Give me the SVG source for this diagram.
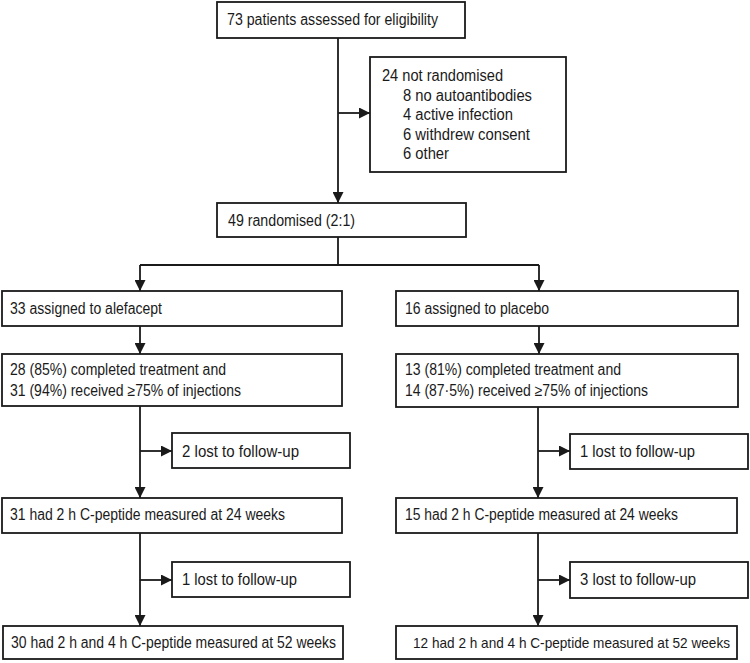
<svg xmlns="http://www.w3.org/2000/svg" width="750" height="663" viewBox="0 0 750 663">
<style>
.box{fill:#fff;stroke:#1a1a1a;stroke-width:1.8}
.ln{fill:none;stroke:#1a1a1a;stroke-width:1.8}
text{font-family:"Liberation Sans",Arial,sans-serif;font-size:16px;fill:#1a1a1a}
</style>
<defs>
<marker id="ah" viewBox="0 0 11 11" markerWidth="11" markerHeight="11" refX="11" refY="5.5" orient="auto" markerUnits="userSpaceOnUse">
<path d="M0,0 L11,5.5 L0,11 z" fill="#1a1a1a"/>
</marker>
</defs>
<rect width="750" height="663" fill="#fff"/>
<g id="connectors">
<path class="ln" d="M338,38 V203" marker-end="url(#ah)"/>
<path class="ln" d="M338,113 H370" marker-end="url(#ah)"/>
<path class="ln" d="M338,237 V265 M140,265 H539"/>
<path class="ln" d="M140,265 V291" marker-end="url(#ah)"/>
<path class="ln" d="M539,265 V291" marker-end="url(#ah)"/>
<path class="ln" d="M140,326 V354" marker-end="url(#ah)"/>
<path class="ln" d="M539,326 V354" marker-end="url(#ah)"/>
<path class="ln" d="M140,406 V498" marker-end="url(#ah)"/>
<path class="ln" d="M140,451 H172" marker-end="url(#ah)"/>
<path class="ln" d="M538,407 V498" marker-end="url(#ah)"/>
<path class="ln" d="M538,451 H570" marker-end="url(#ah)"/>
<path class="ln" d="M140,533 V626" marker-end="url(#ah)"/>
<path class="ln" d="M140,580 H172" marker-end="url(#ah)"/>
<path class="ln" d="M538,533 V626" marker-end="url(#ah)"/>
<path class="ln" d="M538,580 H570" marker-end="url(#ah)"/>
</g>
<g id="n-assessed"><rect class="box" x="217" y="2" width="248" height="36"/><text x="227" y="25" textLength="211" lengthAdjust="spacingAndGlyphs">73 patients assessed for eligibility</text></g>
<g id="n-notrand"><rect class="box" x="370" y="57" width="196" height="115"/>
<text x="382" y="81" textLength="121" lengthAdjust="spacingAndGlyphs">24 not randomised</text>
<text x="403" y="100.5" textLength="129" lengthAdjust="spacingAndGlyphs">8 no autoantibodies</text>
<text x="403" y="120" textLength="110" lengthAdjust="spacingAndGlyphs">4 active infection</text>
<text x="403" y="139.5" textLength="127" lengthAdjust="spacingAndGlyphs">6 withdrew consent</text>
<text x="403" y="159" textLength="46" lengthAdjust="spacingAndGlyphs">6 other</text></g>
<g id="n-rand"><rect class="box" x="217" y="203" width="249" height="34"/><text x="228" y="226" textLength="127" lengthAdjust="spacingAndGlyphs">49 randomised (2:1)</text></g>
<g id="n-alef"><rect class="box" x="2" y="291" width="340" height="35"/><text x="10" y="314" textLength="152" lengthAdjust="spacingAndGlyphs">33 assigned to alefacept</text></g>
<g id="n-plac"><rect class="box" x="396" y="291" width="342" height="35"/><text x="405" y="314" textLength="144" lengthAdjust="spacingAndGlyphs">16 assigned to placebo</text></g>
<g id="n-alef-comp"><rect class="box" x="2" y="354" width="340" height="52"/><text x="10" y="375" textLength="216" lengthAdjust="spacingAndGlyphs">28 (85%) completed treatment and</text><text x="10" y="396" textLength="231" lengthAdjust="spacingAndGlyphs">31 (94%) received ≥75% of injections</text></g>
<g id="n-plac-comp"><rect class="box" x="396" y="354" width="342" height="53"/><text x="405" y="375" textLength="216" lengthAdjust="spacingAndGlyphs">13 (81%) completed treatment and</text><text x="405" y="396" textLength="243" lengthAdjust="spacingAndGlyphs">14 (87·5%) received ≥75% of injections</text></g>
<g id="n-alef-lost1"><rect class="box" x="172" y="433" width="178" height="35"/><text x="182" y="457" textLength="117" lengthAdjust="spacingAndGlyphs">2 lost to follow-up</text></g>
<g id="n-plac-lost1"><rect class="box" x="570" y="434" width="178" height="35"/><text x="580" y="457" textLength="115" lengthAdjust="spacingAndGlyphs">1 lost to follow-up</text></g>
<g id="n-alef-24"><rect class="box" x="2" y="498" width="340" height="35"/><text x="10" y="520" textLength="275" lengthAdjust="spacingAndGlyphs">31 had 2 h C-peptide measured at 24 weeks</text></g>
<g id="n-plac-24"><rect class="box" x="396" y="498" width="341" height="35"/><text x="405" y="520" textLength="273" lengthAdjust="spacingAndGlyphs">15 had 2 h C-peptide measured at 24 weeks</text></g>
<g id="n-alef-lost2"><rect class="box" x="172" y="562" width="178" height="35"/><text x="182" y="585" textLength="115" lengthAdjust="spacingAndGlyphs">1 lost to follow-up</text></g>
<g id="n-plac-lost2"><rect class="box" x="570" y="562" width="178" height="36"/><text x="580" y="585" textLength="116" lengthAdjust="spacingAndGlyphs">3 lost to follow-up</text></g>
<g id="n-alef-52"><rect class="box" x="3" y="626" width="340" height="33"/><text x="11" y="648" textLength="325" lengthAdjust="spacingAndGlyphs">30 had 2 h and 4 h C-peptide measured at 52 weeks</text></g>
<g id="n-plac-52"><rect class="box" x="396" y="626" width="341" height="33"/><text x="413" y="648" style="font-size:14.4px" textLength="317" lengthAdjust="spacingAndGlyphs">12 had 2 h and 4 h C-peptide measured at 52 weeks</text></g>
</svg>
